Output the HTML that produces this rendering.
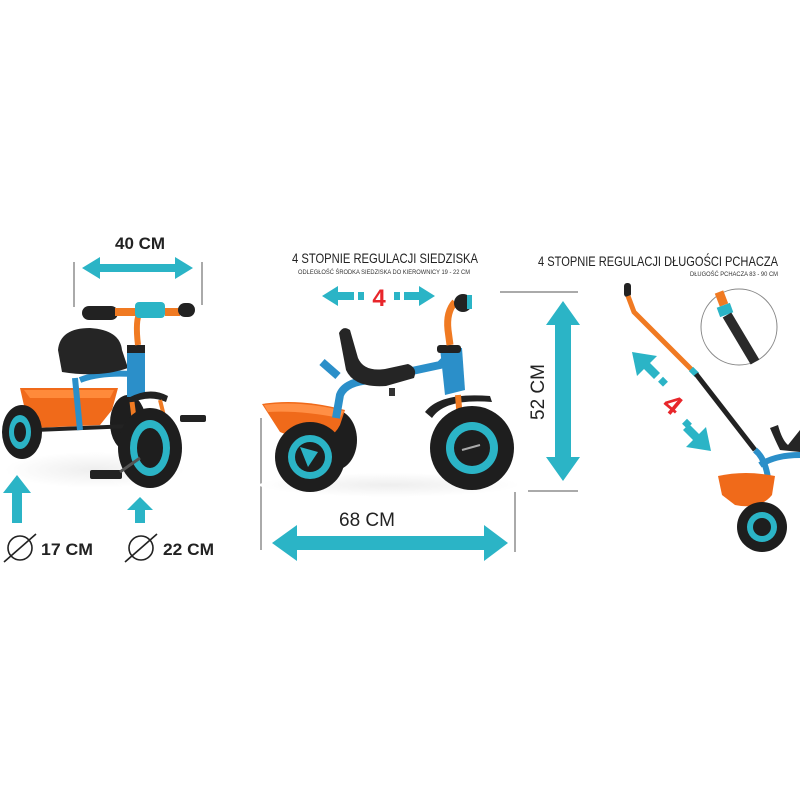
<!DOCTYPE html>
<html><head><meta charset="utf-8"><style>
html,body{margin:0;padding:0;background:#fff;}
svg{display:block;}
text{font-family:"Liberation Sans",sans-serif;}
</style></head><body>
<svg width="800" height="800" viewBox="0 0 800 800" xmlns="http://www.w3.org/2000/svg">
<rect width="800" height="800" fill="#fff"/>
<defs>
<radialGradient id="g" cx="0.5" cy="0.5" r="0.5"><stop offset="0" stop-color="#eee"/><stop offset="1" stop-color="#fff"/></radialGradient>
</defs>

<!-- LEFT PANEL -->
<text x="140" y="249" font-size="17" font-weight="bold" text-anchor="middle" fill="#222" textLength="50" lengthAdjust="spacingAndGlyphs">40 CM</text>
<line x1="74" y1="262" x2="74" y2="307" stroke="#555" stroke-width="1"/>
<line x1="202" y1="262" x2="202" y2="305" stroke="#555" stroke-width="1"/>
<polygon points="82,268 100,257 100,264 175,264 175,257 193,268 175,279 175,272 100,272 100,279" fill="#2bb4c6"/>

<!-- left trike -->
<ellipse cx="95" cy="470" rx="90" ry="18" fill="url(#g)"/>
<ellipse cx="128" cy="423" rx="18" ry="28" fill="#1e1e1e"/>
<path d="M20,388 L118,388 L112,410 L100,425 L35,428 L25,410 Z" fill="#f06a1a"/>
<path d="M24,390 L114,390 L110,398 L30,398 Z" fill="#ff8a3a"/>
<line x1="35" y1="430" x2="130" y2="426" stroke="#222" stroke-width="4"/>
<ellipse cx="22" cy="432" rx="20" ry="27" fill="#1e1e1e"/>
<ellipse cx="20" cy="432" rx="11" ry="17" fill="#2bb4c6"/>
<ellipse cx="20" cy="432" rx="6" ry="10" fill="#1e1e1e"/>
<path d="M75,378 L80,430" stroke="#2b8fc9" stroke-width="6" fill="none"/>
<path d="M80,380 Q100,372 132,374" stroke="#2b8fc9" stroke-width="6" fill="none"/>
<path d="M58,350 Q60,328 90,328 Q120,330 122,350 L128,368 Q100,378 62,372 Z" fill="#252525"/>
<rect x="127" y="345" width="18" height="52" fill="#2b8fc9"/>
<rect x="127" y="345" width="18" height="8" fill="#222"/>
<path d="M138,345 Q135,320 140,312" stroke="#f07a22" stroke-width="6" fill="none"/>
<rect x="82" y="306" width="36" height="14" rx="7" fill="#222"/>
<rect x="115" y="308" width="22" height="8" fill="#f07a22"/>
<rect x="135" y="302" width="30" height="16" rx="4" fill="#2bb4c6"/>
<rect x="165" y="308" width="15" height="8" fill="#f07a22"/>
<rect x="178" y="303" width="17" height="14" rx="7" fill="#222"/>
<path d="M128,398 Q150,386 168,396 L166,402 Q148,394 130,404 Z" fill="#222"/>
<line x1="132" y1="402" x2="138" y2="450" stroke="#f07a22" stroke-width="5"/>
<line x1="160" y1="400" x2="165" y2="420" stroke="#f07a22" stroke-width="4"/>
<ellipse cx="150" cy="448" rx="32" ry="40" fill="#1e1e1e"/>
<ellipse cx="150" cy="448" rx="20" ry="28" fill="#2bb4c6"/>
<ellipse cx="150" cy="448" rx="13" ry="20" fill="#1e1e1e"/>
<rect x="180" y="415" width="26" height="7" rx="2" fill="#222"/>
<rect x="90" y="470" width="32" height="9" rx="2" fill="#222"/>
<line x1="120" y1="472" x2="140" y2="458" stroke="#555" stroke-width="3"/>

<polygon points="17,475 31,493 22,493 22,523 12,523 12,493 3,493" fill="#2bb4c6"/>
<polygon points="140,497 153,510 145,510 145,523 135,523 135,510 127,510" fill="#2bb4c6"/>
<circle cx="20" cy="548" r="12" fill="none" stroke="#222" stroke-width="1.6"/>
<line x1="4" y1="562" x2="36" y2="534" stroke="#222" stroke-width="1.6"/>
<text x="41" y="555" font-size="17" font-weight="bold" fill="#222" textLength="52" lengthAdjust="spacingAndGlyphs">17 CM</text>
<circle cx="141" cy="548" r="12" fill="none" stroke="#222" stroke-width="1.6"/>
<line x1="125" y1="562" x2="157" y2="534" stroke="#222" stroke-width="1.6"/>
<text x="163" y="555" font-size="17" font-weight="bold" fill="#222" textLength="51" lengthAdjust="spacingAndGlyphs">22 CM</text>

<line x1="261" y1="418" x2="261" y2="550" stroke="#555" stroke-width="1"/>

<!-- MIDDLE PANEL -->
<text x="385" y="263" font-size="14" text-anchor="middle" fill="#222" textLength="186" lengthAdjust="spacingAndGlyphs">4 STOPNIE REGULACJI SIEDZISKA</text>
<text x="384" y="274" font-size="6" text-anchor="middle" fill="#333" textLength="172" lengthAdjust="spacingAndGlyphs">ODLEGŁOŚĆ ŚRODKA SIEDZISKA DO KIEROWNICY 19 - 22 CM</text>
<polygon points="322,296 338,286 338,292 354,292 354,300 338,300 338,306" fill="#2bb4c6"/>
<rect x="358" y="292" width="6" height="8" fill="#2bb4c6"/>
<text x="379" y="306" font-size="24" font-weight="bold" text-anchor="middle" fill="#e8262b">4</text>
<rect x="394" y="292" width="6" height="8" fill="#2bb4c6"/>
<polygon points="435,296 419,286 419,292 404,292 404,300 419,300 419,306" fill="#2bb4c6"/>

<line x1="500" y1="292" x2="578" y2="292" stroke="#555" stroke-width="1"/>
<line x1="528" y1="491" x2="578" y2="491" stroke="#555" stroke-width="1"/>
<polygon points="563,301 580,325 571,325 571,457 580,457 563,481 546,457 555,457 555,325 546,325" fill="#2bb4c6"/>
<text x="0" y="0" font-size="19" text-anchor="middle" fill="#222" transform="translate(544,392) rotate(-90)">52 CM</text>
<line x1="515" y1="492" x2="515" y2="552" stroke="#555" stroke-width="1"/>
<text x="367" y="526" font-size="19" text-anchor="middle" fill="#222">68 CM</text>
<polygon points="272,543 297,525 297,536 484,536 484,525 508,543 484,561 484,550 297,550 297,561" fill="#2bb4c6"/>

<!-- middle trike -->
<ellipse cx="390" cy="485" rx="130" ry="12" fill="url(#g)"/>
<ellipse cx="335" cy="440" rx="22" ry="30" fill="#1e1e1e"/>
<path d="M262,404 Q300,398 345,410 L340,425 Q330,445 300,440 L280,432 Z" fill="#f06a1a"/>
<path d="M264,405 Q300,400 344,411 L340,418 Q300,410 268,412 Z" fill="#ff8f45"/>
<!-- frame -->
<path d="M322,362 L338,376" stroke="#2b8fc9" stroke-width="8" fill="none"/>
<path d="M336,418 L340,395 Q345,382 370,380 L440,365 L450,355" stroke="#2b8fc9" stroke-width="8" fill="none"/>
<!-- seat -->
<path d="M339,333 Q343,325 350,330 L358,358 Q364,372 385,369 L408,364 Q418,368 414,378 L386,386 Q354,388 346,370 Z" fill="#252525"/>
<rect x="389" y="388" width="6" height="8" fill="#333"/>
<path d="M440,348 L462,348 L465,390 L445,395 Z" fill="#2b8fc9"/>
<rect x="437" y="345" width="24" height="8" rx="3" fill="#222"/>
<path d="M450,345 L448,330 Q446,312 455,302" stroke="#f07a22" stroke-width="7" fill="none"/>
<circle cx="463" cy="303" r="9" fill="#222"/>
<rect x="467" y="295" width="5" height="14" fill="#2bb4c6"/>
<path d="M425,412 Q440,392 490,396 L492,402 Q445,398 432,418 Z" fill="#222"/>
<line x1="458" y1="395" x2="462" y2="445" stroke="#f07a22" stroke-width="6"/>
<circle cx="310" cy="457" r="35" fill="#1e1e1e"/>
<circle cx="310" cy="457" r="22" fill="#2bb4c6"/>
<circle cx="310" cy="457" r="15" fill="#1e1e1e"/>
<path d="M300,447 L318,452 L308,467 Z" fill="#2bb4c6"/>
<circle cx="472" cy="448" r="42" fill="#1e1e1e"/>
<circle cx="472" cy="448" r="26" fill="#2bb4c6"/>
<circle cx="472" cy="448" r="18" fill="#1e1e1e"/>
<line x1="462" y1="450" x2="480" y2="445" stroke="#aaa" stroke-width="2"/>

<!-- RIGHT PANEL -->
<text x="658" y="266" font-size="14" text-anchor="middle" fill="#222" textLength="240" lengthAdjust="spacingAndGlyphs">4 STOPNIE REGULACJI DŁUGOŚCI PCHACZA</text>
<text x="778" y="276" font-size="6" text-anchor="end" fill="#333" textLength="88" lengthAdjust="spacingAndGlyphs">DŁUGOŚĆ PCHACZA 83 - 90 CM</text>
<circle cx="739" cy="327" r="38" fill="#fff" stroke="#888" stroke-width="1"/>
<line x1="719" y1="292" x2="724" y2="305" stroke="#f07a22" stroke-width="9"/>
<rect x="718" y="305" width="14" height="10" fill="#2bb4c6" transform="rotate(-20 725 310)"/>
<line x1="727" y1="315" x2="755" y2="362" stroke="#2a2a2a" stroke-width="10"/>

<rect x="624" y="283" width="7" height="14" rx="3" fill="#222"/>
<path d="M628,296 L634,312 L692,370" stroke="#f07a22" stroke-width="5" fill="none"/>
<line x1="691" y1="369" x2="697" y2="375" stroke="#2bb4c6" stroke-width="6"/>
<line x1="696" y1="374" x2="755" y2="450" stroke="#222" stroke-width="5"/>
<polygon points="632,352 657,356 650,363 660,373 654,379 644,369 637,376" fill="#2bb4c6"/>
<rect x="660" y="378" width="7" height="7" fill="#2bb4c6" transform="rotate(45 663 381)"/>
<text x="673" y="414" font-size="28" font-weight="bold" text-anchor="middle" fill="#e8262b" transform="rotate(40 673 404)">4</text>
<rect x="684" y="420" width="7" height="7" fill="#2bb4c6" transform="rotate(45 687 423)"/>
<polygon points="711,451 686,447 693,440 683,430 689,424 699,434 706,427" fill="#2bb4c6"/>
<path d="M755,450 Q765,458 768,478" stroke="#2b8fc9" stroke-width="6" fill="none"/>
<path d="M760,465 Q775,455 800,455" stroke="#2b8fc9" stroke-width="6" fill="none"/>
<path d="M770,428 Q775,440 780,450 L800,452 L800,430 L788,445 Q782,440 778,425 Z" fill="#252525"/>
<path d="M718,476 Q745,470 775,476 L772,495 Q760,510 735,505 L722,495 Z" fill="#f06a1a"/>
<circle cx="762" cy="527" r="25" fill="#1e1e1e"/>
<circle cx="762" cy="527" r="15" fill="#2bb4c6"/>
<circle cx="762" cy="527" r="9" fill="#1e1e1e"/>
</svg>
</body></html>
